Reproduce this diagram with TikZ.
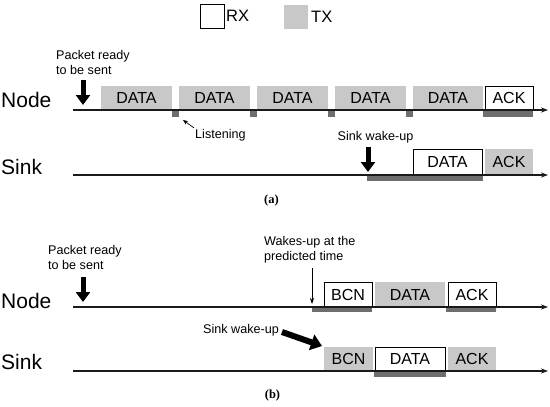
\documentclass[tikz,border=0pt]{standalone}
\usepackage{fontspec}
\setmainfont{Liberation Sans}
\newfontfamily\capfont{Liberation Serif}
\usetikzlibrary{arrows.meta}
\definecolor{txgray}{HTML}{C8C8C8}
\definecolor{bargray}{HTML}{6E6E6E}
\definecolor{linecol}{HTML}{1A1A1A}
\tikzset{
  box/.style={inner sep=0pt, font=\fontsize{16}{16}\selectfont},
  txbox/.style={box, fill=txgray},
  rxbox/.style={box, fill=white, draw=black, line width=0.8pt},
  bar/.style={fill=bargray, draw=none, inner sep=0pt},
  lbl/.style={font=\fontsize{12.6}{15}\selectfont, inner sep=0pt, align=left},
  rowlbl/.style={font=\fontsize{21}{21}\selectfont, inner sep=0pt, anchor=west},
  timeline/.style={linecol, line width=1.1pt, -{Stealth[length=7pt,width=5pt]}},
  bigarrow/.style={line width=5pt, -{Triangle[length=10pt,width=14pt]}},
  thinarrow/.style={line width=0.7pt, -{Stealth[length=6pt,width=4pt]}},
  caplbl/.style={font=\capfont\bfseries\fontsize{12.5}{12.5}\selectfont, inner sep=0pt}
}
\newcommand{\boxat}[6]{%
  \node[#1, minimum width={(#5)-(#3)}, minimum height={(#6)-(#4)}] (#2) at ({((#3)+(#5))/2},{((#4)+(#6))/2})}
\begin{document}
\begin{tikzpicture}[x=1pt, y=-1pt]
\useasboundingbox (0,0) rectangle (550,407);
% legend
\boxat{rxbox}{legrx}{200}{4}{224}{28} {};
\node[font=\fontsize{16.5}{16.5}\selectfont, inner sep=0pt, anchor=west] (rxt) at (226,16) {RX};
\boxat{txbox}{legtx}{284}{5}{308}{29} {};
\node[font=\fontsize{16.5}{16.5}\selectfont, inner sep=0pt, anchor=west] (txt) at (311,17) {TX};

% ---------- panel (a) ----------
\node[rowlbl] (nodeA) at (1,100) {Node};
\node[rowlbl] (sinkA) at (1,167) {Sink};
\coordinate (nAs) at (73,110);
\coordinate (nAe) at (548,110);
\coordinate (sAs) at (73,175);
\coordinate (sAe) at (548,175);

\node[lbl, anchor=west] (pktA) at (56,62.5) {Packet ready\\to be sent};
\coordinate (arA1) at (83,80);
\coordinate (arA2) at (83,105);
\draw[bigarrow] (arA1) -- (arA2);

\boxat{txbox}{dA1}{101}{86}{172}{110} {DATA};
\boxat{txbox}{dA2}{179}{86}{250}{110} {DATA};
\boxat{txbox}{dA3}{257}{86}{328}{110} {DATA};
\boxat{txbox}{dA4}{335}{86}{406}{110} {DATA};
\boxat{txbox}{dA5}{413}{86}{483}{110} {DATA};
\boxat{bar}{lA1}{172}{110}{179}{117} {};
\boxat{bar}{lA2}{250}{110}{257}{117} {};
\boxat{bar}{lA3}{328}{110}{335}{117} {};
\boxat{bar}{lA4}{406}{110}{413}{117} {};
\boxat{bar}{lA5}{483}{110}{533}{117} {};
\boxat{rxbox}{ackA}{485}{86.5}{533}{110} {ACK};
\draw[timeline] (nAs) -- (nAe);

\node[lbl, anchor=west] (listen) at (195,135) {Listening};
\coordinate (lisTip) at (183,120);
\draw[thinarrow, -{Stealth[length=5pt,width=4pt]}] (listen.north west) ++(-1,-1) -- (lisTip);

\node[lbl] (swA) at (375.5,137) {Sink wake-up};
\coordinate (arS1) at (368,147);
\coordinate (arS2) at (368,172);
\boxat{bar}{bSA}{367}{175}{483}{181} {};
\boxat{rxbox}{dSA}{413}{149}{482}{175} {DATA};
\boxat{txbox}{aSA}{485}{149}{533}{175} {ACK};
\draw[timeline] (sAs) -- (sAe);
\draw[bigarrow] (arS1) -- (arS2);

\node[caplbl] (capA) at (271.5,200) {(a)};

% ---------- panel (b) ----------
\node[rowlbl] (nodeB) at (1,301) {Node};
\node[rowlbl] (sinkB) at (1,362) {Sink};
\coordinate (nBs) at (73,307);
\coordinate (nBe) at (548,307);
\coordinate (sBs) at (73,371);
\coordinate (sBe) at (548,371);

\node[lbl, anchor=west] (pktB) at (48,257.5) {Packet ready\\to be sent};
\coordinate (arB1) at (83,277);
\coordinate (arB2) at (83,302);
\draw[bigarrow] (arB1) -- (arB2);

\node[lbl, anchor=west] (wake) at (264,249.5) {Wakes-up at the\\predicted time};
\coordinate (wk1) at (312,268);
\coordinate (wk2) at (312,304);
\draw[thinarrow] (wk1) -- (wk2);

\boxat{bar}{bB1}{312}{307}{372}{312} {};
\boxat{bar}{bB2}{446}{307}{496}{312} {};
\boxat{rxbox}{bcnB}{324}{282}{372}{307} {BCN};
\boxat{txbox}{dB}{375}{282}{445}{307} {DATA};
\boxat{rxbox}{ackB}{448}{282}{496}{307} {ACK};
\draw[timeline] (nBs) -- (nBe);

\node[lbl, anchor=east] (swB) at (279,330) {Sink wake-up};
\coordinate (sw1) at (282,332);
\coordinate (sw2) at (322,346);
\draw[line width=6pt, -{Triangle[length=11pt,width=16pt]}] (sw1) -- (sw2);

\boxat{bar}{bSB}{374}{371}{446}{377} {};
\boxat{txbox}{bcnS}{324}{347}{373}{371} {BCN};
\boxat{rxbox}{dSB}{375}{347}{445}{371} {DATA};
\boxat{txbox}{ackS}{448}{347}{496}{371} {ACK};
\draw[timeline] (sBs) -- (sBe);

\node[caplbl] (capB) at (272.5,395) {(b)};
\end{tikzpicture}
\end{document}
